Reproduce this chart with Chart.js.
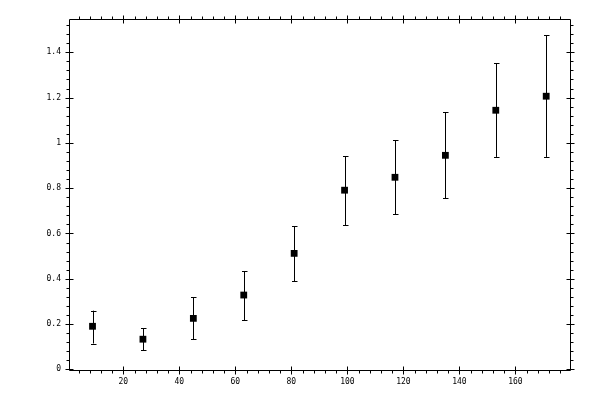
<!DOCTYPE html>
<html>
<head>
<meta charset="utf-8">
<script src="https://cdn.jsdelivr.net/npm/chart.js@4"></script>
<style>
  html, body { margin: 0; padding: 0; background: #fff; }
  #wrap { width: 600px; height: 400px; }
</style>
</head>
<body>
<div id="wrap"><canvas id="chart"></canvas></div>
<script>
// measured points with their error bar ends
const xValues = [9, 27, 45, 63, 81, 99, 117, 135, 153, 171];
const yValues = [0.190, 0.133, 0.225, 0.328, 0.512, 0.791, 0.848, 0.945, 1.144, 1.206];
const yLow = [0.114, 0.084, 0.132, 0.216, 0.388, 0.636, 0.684, 0.755, 0.938, 0.938];
const yHigh = [0.259, 0.181, 0.318, 0.433, 0.631, 0.941, 1.012, 1.135, 1.352, 1.475];

const xTicks = [20, 40, 60, 80, 100, 120, 140, 160];
const yTicks = [0, 0.2, 0.4, 0.6, 0.8, 1, 1.2, 1.4];
const xMinorStep = 4;
const yMinorStep = 0.04;

const INK = "#000000";

// frame, ticks on all four sides and the error bars
const framePlugin = {
  id: "frame",
  beforeDatasetsDraw(chart) {
    const ctx = chart.ctx;
    const x = chart.scales.x;
    const y = chart.scales.y;
    ctx.save();
    ctx.strokeStyle = INK;
    ctx.lineWidth = 1;
    ctx.beginPath();
    for (let i = 0; i < xValues.length; i++) {
      const px = Math.round(x.getPixelForValue(xValues[i])) + 0.5;
      const lo = y.getPixelForValue(yLow[i]);
      const hi = y.getPixelForValue(yHigh[i]);
      ctx.moveTo(px, lo);
      ctx.lineTo(px, hi);
      ctx.moveTo(px - 2.5, Math.round(lo) + 0.5);
      ctx.lineTo(px + 3, Math.round(lo) + 0.5);
      ctx.moveTo(px - 2.5, Math.round(hi) + 0.5);
      ctx.lineTo(px + 3, Math.round(hi) + 0.5);
    }
    ctx.stroke();
    ctx.restore();
  },
  afterDraw(chart) {
    const ctx = chart.ctx;
    const a = chart.chartArea;
    const x = chart.scales.x;
    const y = chart.scales.y;
    const L = a.left + 0.5, R = a.right + 0.5, T = a.top + 0.5, B = a.bottom + 0.5;
    ctx.save();
    ctx.strokeStyle = INK;
    ctx.lineWidth = 1;
    ctx.beginPath();
    ctx.rect(L, T, R - L, B - T);

    const isMajor = (v, list) => list.some((t) => Math.abs(t - v) < 1e-6);

    for (let v = Math.ceil(x.min / xMinorStep) * xMinorStep; v <= x.max; v += xMinorStep) {
      const px = Math.round(x.getPixelForValue(v)) + 0.5;
      if (isMajor(v, xTicks)) {
        ctx.moveTo(px, B + 4); ctx.lineTo(px, B - 4);
        ctx.moveTo(px, T - 4); ctx.lineTo(px, T + 4);
      } else {
        ctx.moveTo(px, B + 3); ctx.lineTo(px, B);
        ctx.moveTo(px, T - 3); ctx.lineTo(px, T);
      }
    }
    const nY = Math.round((y.max - Math.max(y.min, 0)) / yMinorStep);
    for (let k = 0; k <= nY; k++) {
      const v = Math.round(k * yMinorStep * 100) / 100;
      if (v > y.max) break;
      const py = Math.round(y.getPixelForValue(v)) + 0.5;
      if (isMajor(v, yTicks)) {
        ctx.moveTo(L - 4, py); ctx.lineTo(L + 4, py);
        ctx.moveTo(R - 4, py); ctx.lineTo(R + 4, py);
      } else {
        ctx.moveTo(L - 3, py); ctx.lineTo(L, py);
        ctx.moveTo(R, py); ctx.lineTo(R + 3, py);
      }
    }
    ctx.stroke();
    ctx.restore();
  },
};

Chart.defaults.font.family = "'DejaVu Sans Mono', monospace";
Chart.defaults.font.size = 8;
Chart.defaults.color = INK;

new Chart(document.getElementById("chart"), {
  type: "scatter",
  data: {
    datasets: [
      {
        data: xValues.map((v, i) => ({ x: v, y: yValues[i] })),
        pointStyle: "rect",
        pointRadius: 4.8,
        pointHoverRadius: 4.8,
        pointBackgroundColor: INK,
        pointBorderWidth: 0,
        showLine: false,
      },
    ],
  },
  options: {
    responsive: true,
    maintainAspectRatio: false,
    animation: false,
    events: [],
    layout: {
      padding: { top: 19, right: 30, left: 0, bottom: 0 },
    },
    plugins: {
      legend: { display: false },
      tooltip: { enabled: false },
    },
    scales: {
      x: {
        type: "linear",
        min: 0.6,
        max: 179.5,
        afterFit: (scale) => { scale.height = 30; },
        afterBuildTicks: (scale) => { scale.ticks = xTicks.map((v) => ({ value: v })); },
        grid: { display: false, drawTicks: false },
        border: { display: false },
        ticks: {
          padding: 7,
          maxRotation: 0,
          autoSkip: false,
          callback: (v) => String(v),
        },
      },
      y: {
        type: "linear",
        min: -0.003,
        max: 1.547,
        afterFit: (scale) => { scale.width = 69; },
        afterBuildTicks: (scale) => { scale.ticks = yTicks.map((v) => ({ value: v })); },
        grid: { display: false, drawTicks: false },
        border: { display: false },
        ticks: {
          padding: 8,
          autoSkip: false,
          callback: (v) => String(+v.toFixed(1)),
        },
      },
    },
  },
  plugins: [framePlugin],
});
</script>
</body>
</html>
